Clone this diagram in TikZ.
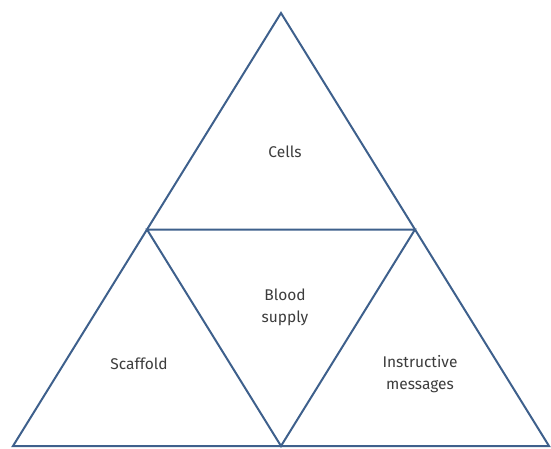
\documentclass[tikz,border=0pt]{standalone}
\usepackage{fontspec}
\setmainfont{Fira Sans}
\usepackage{tikz}
\usetikzlibrary{calc}
\definecolor{AzulLinea}{RGB}{62,96,140}
\definecolor{GrisTexto}{RGB}{60,60,60}

\begin{document}
\begin{tikzpicture}[x=1pt,y=-1pt,
    lado/.style={AzulLinea,line width=2pt,line join=miter},
    etiqueta/.style={text=GrisTexto,font=\fontsize{15.5}{22}\selectfont,align=center}]
  \useasboundingbox (0,0) rectangle (551,448);
  \coordinate (apex) at (281,13);
  \coordinate (izq) at (13,446);
  \coordinate (der) at (549,446);
  \coordinate (midizq) at ($(apex)!0.5!(izq)$);
  \coordinate (midder) at ($(apex)!0.5!(der)$);
  \coordinate (midbase) at ($(izq)!0.5!(der)$);
  \draw[lado] (apex)--(izq)--(der)--cycle;
  \draw[lado] (midizq)--(midder)--(midbase)--cycle;
  \node[etiqueta] (cells) at (285,152) {Cells};
  \node[etiqueta] (blood) at (285,307) {Blood\\supply};
  \node[etiqueta] (scaffold) at (139,364) {Scaffold};
  \node[etiqueta] (messages) at (420,374) {Instructive\\messages};
\end{tikzpicture}
\end{document}
